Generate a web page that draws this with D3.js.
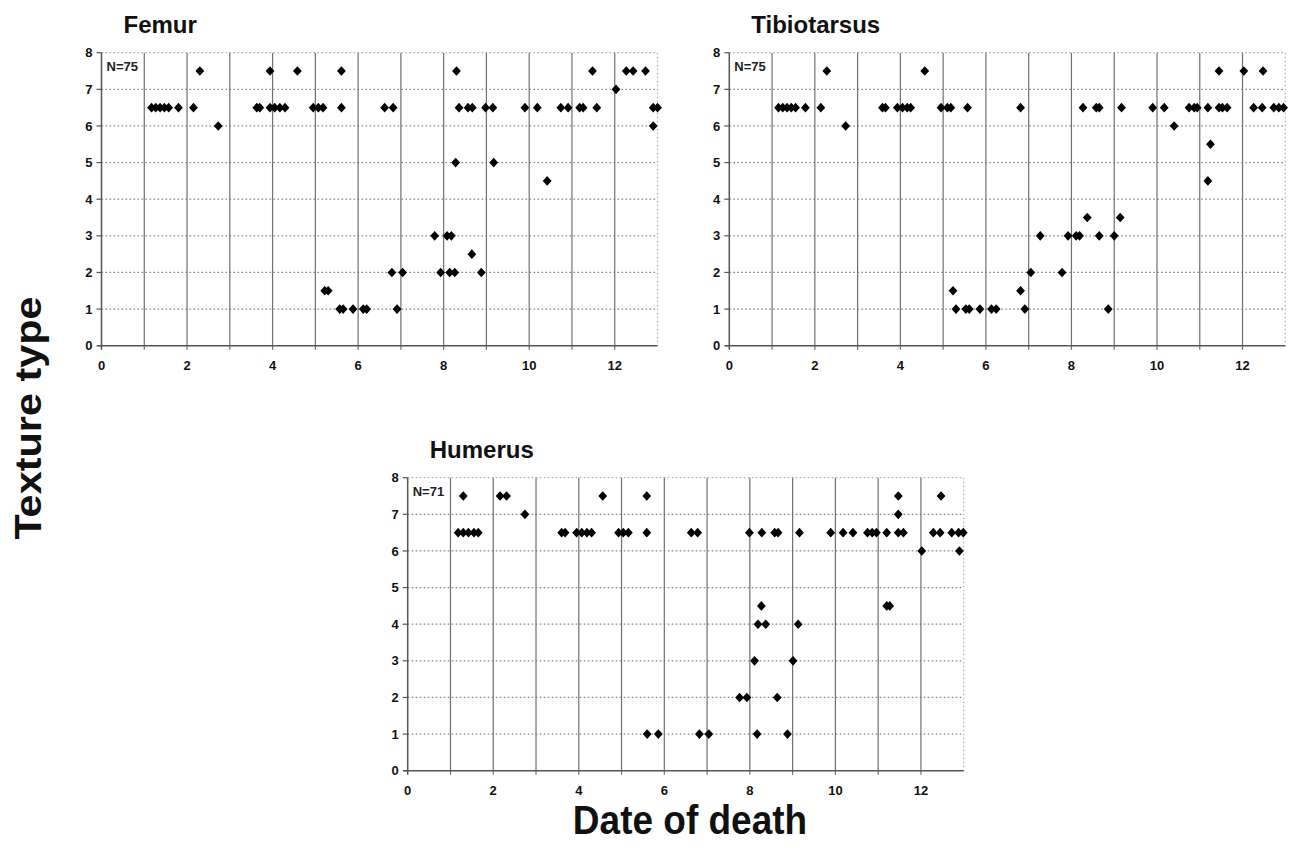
<!DOCTYPE html>
<html>
<head>
<meta charset="utf-8">
<title>Texture type vs date of death</title>
<script src="https://d3js.org/d3.v7.min.js"></script>
<style>
  body { margin: 0; background: #fff; }
  svg { display: block; font-family: "Liberation Sans", Arial, Helvetica, sans-serif; }
  .tick-label { font-size: 13px; font-weight: bold; fill: #111; }
  .panel-title { font-size: 24px; font-weight: bold; fill: #111; }
  .n-label { font-size: 13px; font-weight: bold; fill: #222; }
  .big-label { font-size: 37px; font-weight: bold; fill: #111; }
</style>
</head>
<body>
<svg id="svg" width="1294" height="859"></svg>
<script>
// ---- data (day of death, texture type) ----
const xTickValues = [0, 2, 4, 6, 8, 10, 12];
const yTickValues = [0, 1, 2, 3, 4, 5, 6, 7, 8];

const panelNames = ["Femur", "Tibiotarsus", "Humerus"];
const panelN = ["N=75", "N=75", "N=71"];

const femurPoints = [
  [2.30, 7.5], [3.94, 7.5], [4.58, 7.5], [5.61, 7.5], [8.30, 7.5], [11.48, 7.5], [12.27, 7.5], [12.43, 7.5], [12.72, 7.5],
  [12.03, 7],
  [1.17, 6.5], [1.27, 6.5], [1.37, 6.5], [1.47, 6.5], [1.57, 6.5], [1.80, 6.5], [2.15, 6.5], [3.63, 6.5], [3.70, 6.5],
  [3.94, 6.5], [4.05, 6.5], [4.17, 6.5], [4.29, 6.5], [4.95, 6.5], [5.07, 6.5], [5.18, 6.5], [5.61, 6.5], [6.62, 6.5],
  [6.82, 6.5], [8.36, 6.5], [8.57, 6.5], [8.67, 6.5], [8.98, 6.5], [9.15, 6.5], [9.90, 6.5], [10.19, 6.5], [10.74, 6.5],
  [10.91, 6.5], [11.18, 6.5], [11.26, 6.5], [11.58, 6.5], [12.90, 6.5], [13.0, 6.5],
  [2.73, 6], [12.9, 6],
  [8.28, 5], [9.17, 5],
  [10.42, 4.5],
  [7.79, 3], [8.08, 3], [8.18, 3],
  [8.66, 2.5],
  [6.79, 2], [7.04, 2], [7.93, 2], [8.14, 2], [8.26, 2], [8.88, 2],
  [5.22, 1.5], [5.30, 1.5],
  [5.57, 1], [5.65, 1], [5.88, 1], [6.12, 1], [6.20, 1], [6.91, 1]
];

const tibiotarsusPoints = [
  [2.28, 7.5], [4.57, 7.5], [11.45, 7.5], [12.03, 7.5], [12.48, 7.5],
  [1.15, 6.5], [1.25, 6.5], [1.35, 6.5], [1.45, 6.5], [1.55, 6.5], [1.78, 6.5], [2.14, 6.5], [3.58, 6.5], [3.65, 6.5],
  [3.93, 6.5], [4.05, 6.5], [4.16, 6.5], [4.24, 6.5], [4.95, 6.5], [5.10, 6.5], [5.18, 6.5], [5.57, 6.5], [6.81, 6.5],
  [8.27, 6.5], [8.58, 6.5], [8.65, 6.5], [9.17, 6.5], [9.90, 6.5], [10.17, 6.5], [10.75, 6.5], [10.87, 6.5], [10.94, 6.5],
  [11.19, 6.5], [11.45, 6.5], [11.53, 6.5], [11.64, 6.5], [12.26, 6.5], [12.46, 6.5], [12.73, 6.5], [12.85, 6.5], [12.96, 6.5],
  [2.72, 6], [10.40, 6],
  [11.25, 5.5],
  [11.19, 4.5],
  [8.37, 3.5], [9.14, 3.5],
  [7.27, 3], [7.92, 3], [8.11, 3], [8.19, 3], [8.65, 3], [9.0, 3],
  [7.05, 2], [7.78, 2],
  [5.23, 1.5], [6.81, 1.5],
  [5.30, 1], [5.53, 1], [5.61, 1], [5.86, 1], [6.13, 1], [6.24, 1], [6.91, 1], [8.86, 1]
];

const humerusPoints = [
  [1.30, 7.5], [2.16, 7.5], [2.31, 7.5], [4.56, 7.5], [5.59, 7.5], [11.47, 7.5], [12.47, 7.5],
  [2.74, 7], [11.47, 7],
  [1.18, 6.5], [1.30, 6.5], [1.42, 6.5], [1.55, 6.5], [1.65, 6.5], [3.60, 6.5], [3.68, 6.5], [3.95, 6.5], [4.07, 6.5],
  [4.19, 6.5], [4.30, 6.5], [4.93, 6.5], [5.04, 6.5], [5.16, 6.5], [5.59, 6.5], [6.63, 6.5], [6.78, 6.5], [7.99, 6.5],
  [8.28, 6.5], [8.58, 6.5], [8.66, 6.5], [9.16, 6.5], [9.89, 6.5], [10.18, 6.5], [10.41, 6.5], [10.75, 6.5], [10.86, 6.5],
  [10.96, 6.5], [11.20, 6.5], [11.47, 6.5], [11.59, 6.5], [12.29, 6.5], [12.45, 6.5], [12.72, 6.5], [12.88, 6.5], [12.99, 6.5],
  [12.02, 6], [12.9, 6],
  [8.27, 4.5], [11.20, 4.5], [11.27, 4.5],
  [8.19, 4], [8.37, 4], [9.13, 4],
  [8.11, 3], [9.01, 3],
  [7.76, 2], [7.93, 2], [8.64, 2],
  [5.60, 1], [5.86, 1], [6.82, 1], [7.04, 1], [8.17, 1], [8.88, 1]
];

const panelData = [femurPoints, tibiotarsusPoints, humerusPoints];

// ---- layout ----
const plotW = 556, plotH = 293;
const panelOrigins = [[101.5, 52.7], [729.3, 52.7], [407.7, 477.7]];

var svg = d3.select('#svg');
svg.append('rect').attr('width', 1294).attr('height', 859).attr('fill', '#fff');

// diamond marker
const diamond = {
  draw: function(ctx, size) {
    const w = 4.4, h = 4.8;
    ctx.moveTo(0, -h); ctx.lineTo(w, 0); ctx.lineTo(0, h); ctx.lineTo(-w, 0); ctx.closePath();
  }
};
const marker = d3.symbol().type(diamond);

panelNames.forEach(function(name, i) {
  const [ox, oy] = panelOrigins[i];
  const x = d3.scaleLinear().domain([0, 13]).range([0, plotW]);
  const y = d3.scaleLinear().domain([0, 8]).range([plotH, 0]);

  const g = svg.append('g').attr('transform', `translate(${ox},${oy})`);

  // horizontal dotted grid
  g.selectAll('.hgrid').data(yTickValues.filter(v => v > 0)).enter()
    .append('line')
    .attr('x1', 0).attr('x2', plotW)
    .attr('y1', d => y(d)).attr('y2', d => y(d))
    .attr('stroke', d => d === 8 ? '#b0b0b0' : '#858585')
    .attr('stroke-width', 1.2)
    .attr('stroke-dasharray', '1.6,2.4');

  // right border, light
  g.append('line').attr('x1', plotW).attr('x2', plotW).attr('y1', 0).attr('y2', plotH)
    .attr('stroke', '#b0b0b0').attr('stroke-width', 1.2).attr('stroke-dasharray', '1.6,2.4');

  // vertical solid grid at each day
  g.selectAll('.vgrid').data(d3.range(1, 13)).enter()
    .append('line')
    .attr('x1', d => x(d)).attr('x2', d => x(d))
    .attr('y1', 0).attr('y2', plotH + 4)
    .attr('stroke', '#707070')
    .attr('stroke-width', 1.2);

  // axes
  g.append('line').attr('x1', 0).attr('x2', 0).attr('y1', 0).attr('y2', plotH + 4)
    .attr('stroke', '#555').attr('stroke-width', 1.5);
  g.append('line').attr('x1', -4).attr('x2', plotW).attr('y1', plotH).attr('y2', plotH)
    .attr('stroke', '#555').attr('stroke-width', 1.6);
  g.selectAll('.ytickmark').data(yTickValues).enter()
    .append('line')
    .attr('x1', -5).attr('x2', 0)
    .attr('y1', d => y(d)).attr('y2', d => y(d))
    .attr('stroke', '#555').attr('stroke-width', 1.2);

  // tick labels
  g.selectAll('.ylab').data(yTickValues).enter()
    .append('text').attr('class', 'tick-label')
    .attr('x', -9).attr('y', d => y(d)).attr('dy', '0.36em')
    .attr('text-anchor', 'end')
    .text(d => d);
  g.selectAll('.xlab').data(xTickValues).enter()
    .append('text').attr('class', 'tick-label')
    .attr('x', d => x(d)).attr('y', plotH + 24)
    .attr('text-anchor', 'middle')
    .text(d => d);

  // title and N
  g.append('text').attr('class', 'panel-title')
    .attr('x', 22).attr('y', -20)
    .text(name);
  g.append('text').attr('class', 'n-label')
    .attr('x', 5).attr('y', 18)
    .text(panelN[i]);

  // points
  g.selectAll('.pt').data(panelData[i]).enter()
    .append('path')
    .attr('d', marker)
    .attr('transform', d => `translate(${x(d[0])},${y(d[1])})`)
    .attr('fill', '#000');
});

// shared axis titles
svg.append('text').attr('class', 'big-label')
  .attr('text-anchor', 'middle')
  .attr('transform', 'translate(41,418) rotate(-90) scale(1.12,1)')
  .text('Texture type');

svg.append('text').attr('class', 'big-label')
  .attr('text-anchor', 'middle')
  .attr('transform', 'translate(690,834) scale(1,1.08)')
  .text('Date of death');
</script>
</body>
</html>
